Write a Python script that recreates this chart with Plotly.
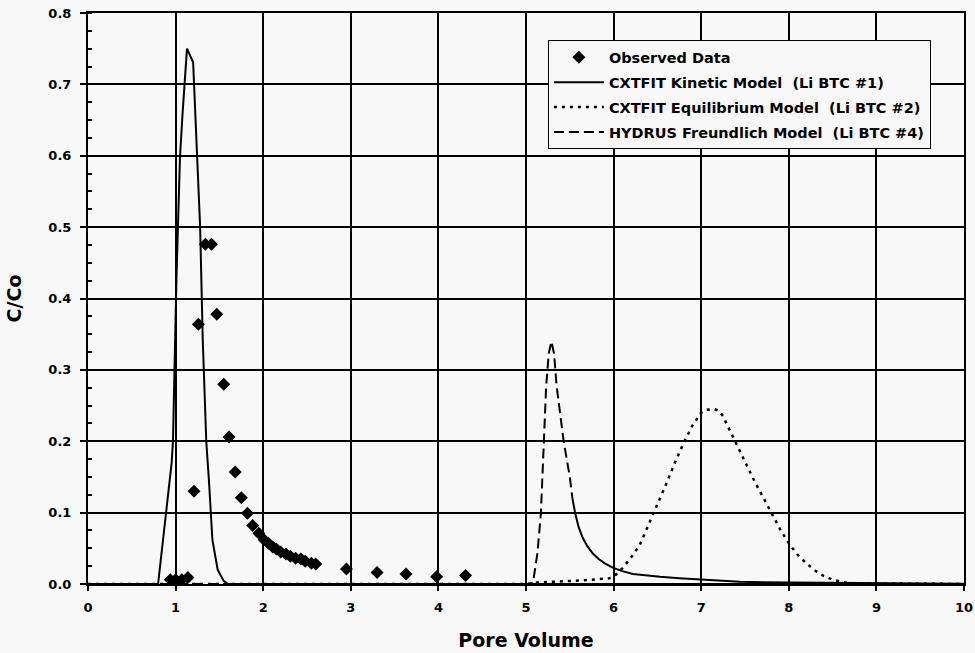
import plotly.graph_objects as go

# Observed data
obs_x = [0.94, 1.00, 1.07, 1.14, 1.21, 1.26, 1.34, 1.41, 1.47, 1.55, 1.61, 1.68, 1.75,
         1.82, 1.88, 1.95, 2.01, 2.06, 2.11, 2.15, 2.20, 2.26, 2.31, 2.37, 2.43, 2.48,
         2.55, 2.60, 2.95, 3.30, 3.63, 3.98, 4.31]
obs_y = [0.006, 0.006, 0.006, 0.009, 0.130, 0.364, 0.476, 0.476, 0.378, 0.280, 0.206,
         0.157, 0.121, 0.099, 0.082, 0.071, 0.062, 0.057, 0.052, 0.049, 0.045, 0.042,
         0.039, 0.036, 0.035, 0.032, 0.029, 0.028, 0.021, 0.016, 0.014, 0.010, 0.012]

# CXTFIT Kinetic Model (Li BTC #1)
kin_x = [0.0, 0.80, 0.955, 0.97, 1.01, 1.05, 1.08, 1.13, 1.20, 1.28, 1.31, 1.35, 1.38,
         1.42, 1.48, 1.55, 1.60, 10.0, None,
         5.53, 5.56, 5.60, 5.65, 5.70, 5.76, 5.83, 5.90, 5.99, 6.10, 6.22, 6.35, 6.53,
         6.75, 6.99, 7.44, 8.0, 9.0, 10.0]
kin_y = [0.0, 0.0, 0.170, 0.200, 0.430, 0.598, 0.660, 0.750, 0.731, 0.500, 0.342, 0.200,
         0.146, 0.062, 0.020, 0.004, 0.0, 0.0, None,
         0.120, 0.100, 0.080, 0.064, 0.053, 0.043, 0.035, 0.029, 0.023, 0.018, 0.014,
         0.012, 0.010, 0.008, 0.006, 0.003, 0.002, 0.001, 0.0005]

# CXTFIT Equilibrium Model (Li BTC #2)
eq_x = [0.0, 5.0, 5.1, 5.3, 5.65, 5.95, 6.0, 6.1, 6.2, 6.3, 6.4, 6.5, 6.6, 6.7, 6.8,
        6.9, 7.0, 7.05, 7.15, 7.2, 7.25, 7.3, 7.4, 7.5, 7.6, 7.7, 7.8, 7.9, 8.0, 8.1,
        8.2, 8.3, 8.4, 8.5, 8.6, 8.7, 10.0]
eq_y = [0.0, 0.0, 0.002, 0.003, 0.005, 0.008, 0.010, 0.022, 0.037, 0.055, 0.083, 0.111,
        0.140, 0.170, 0.198, 0.222, 0.240, 0.244, 0.245, 0.243, 0.235, 0.222, 0.196,
        0.172, 0.146, 0.123, 0.099, 0.077, 0.057, 0.041, 0.029, 0.019, 0.011, 0.006,
        0.003, 0.001, 0.0]

# HYDRUS Freundlich Model (Li BTC #4)
hyd_x = [0.0, 5.05, 5.08, 5.13, 5.17, 5.20, 5.23, 5.26, 5.29, 5.32, 5.35, 5.43, 5.50, 5.53]
hyd_y = [0.0, 0.0, 0.002, 0.043, 0.099, 0.200, 0.277, 0.323, 0.340, 0.323, 0.277, 0.200,
         0.150, 0.120]

FONT = "DejaVu Sans"
BG = "#f8f8f8"

fig = go.Figure()
fig.add_trace(go.Scatter(x=obs_x, y=obs_y, mode="markers", name="Observed Data",
                         legendgroup="a",
                         marker=dict(symbol="diamond", size=10, color="black")))
fig.add_trace(go.Scatter(x=kin_x, y=kin_y, mode="lines", legendgroup="b",
                         name="CXTFIT Kinetic Model\u00a0 (Li BTC #1)",
                         line=dict(color="black", width=2)))
fig.add_trace(go.Scatter(x=eq_x, y=eq_y, mode="lines", legendgroup="c",
                         name="CXTFIT Equilibrium Model\u00a0 (Li BTC #2)",
                         line=dict(color="black", width=2.5, dash="3px,5px")))
fig.add_trace(go.Scatter(x=hyd_x, y=hyd_y, mode="lines", legendgroup="d",
                         name="HYDRUS Freundlich Model\u00a0 (Li BTC #4)",
                         line=dict(color="black", width=2, dash="10px,5px")))

fig.update_layout(
    width=975, height=653,
    margin=dict(l=88, r=11, t=13, b=69),
    paper_bgcolor=BG, plot_bgcolor=BG,
    font=dict(family=FONT, color="black"),
    legend=dict(x=0.525, y=0.952, xanchor="left", yanchor="top",
                bgcolor=BG, bordercolor="black", borderwidth=1,
                font=dict(family=FONT, size=14.5, weight="bold", color="black"),
                itemwidth=50, tracegroupgap=3, traceorder="grouped"),
)
fig.update_xaxes(
    range=[0, 10], dtick=1, tick0=0, automargin=False,
    showgrid=True, gridcolor="black", gridwidth=1.5,
    showline=True, linecolor="black", linewidth=2, mirror=True,
    zeroline=False,
    ticks="outside", ticklen=5, tickcolor="black", tickwidth=1.5,
    tickfont=dict(family=FONT, size=13, weight="bold"),
    ticklabelstandoff=5,
    title=dict(text="Pore Volume", standoff=20,
               font=dict(family=FONT, size=19, weight="bold")),
)
fig.update_yaxes(
    range=[0, 0.8], dtick=0.1, tick0=0, tickformat=".1f", automargin=False,
    showgrid=True, gridcolor="black", gridwidth=1.5,
    showline=True, linecolor="black", linewidth=2, mirror=True,
    zeroline=False,
    ticks="outside", ticklen=6, tickcolor="black", tickwidth=1.5,
    minor=dict(ticks="inside", dtick=0.025, ticklen=4, tickcolor="black", showgrid=False),
    tickfont=dict(family=FONT, size=13, weight="bold"),
    ticklabelstandoff=6,
    title=dict(text="C/Co", standoff=22,
               font=dict(family=FONT, size=19, weight="bold")),
)

fig.write_html("out.html")
